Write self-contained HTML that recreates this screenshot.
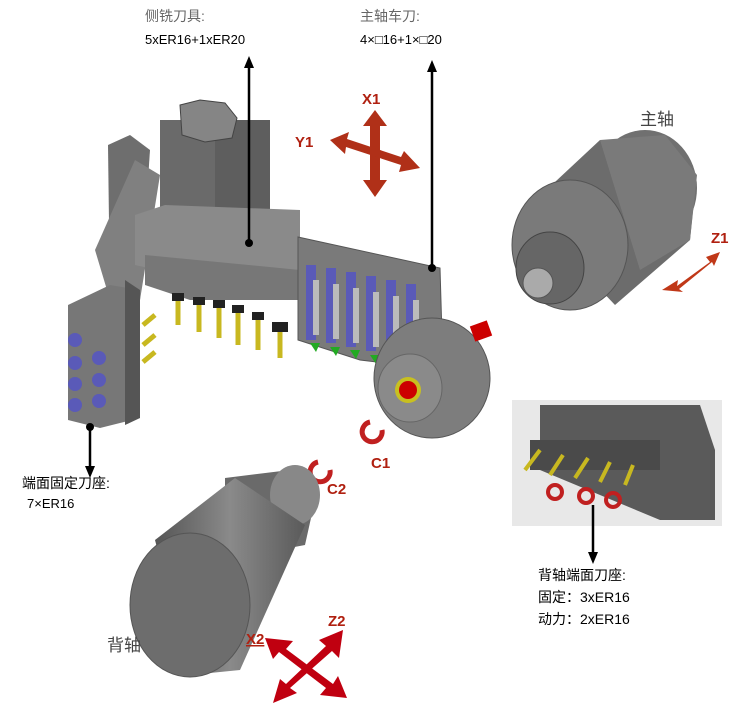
<!DOCTYPE html>
<html><head><meta charset="utf-8"><style>
body{margin:0;background:#fff;width:754px;height:716px;overflow:hidden}
svg{display:block}
text{font-family:"Liberation Sans","Noto Sans CJK SC",sans-serif}
</style></head><body>
<svg width="754" height="716" viewBox="0 0 754 716">
<defs>
<linearGradient id="cyl" x1="0" y1="0" x2="1" y2="0"><stop offset="0" stop-color="#555"/><stop offset=".5" stop-color="#8a8a8a"/><stop offset="1" stop-color="#5a5a5a"/></linearGradient>
<marker id="ah" markerUnits="userSpaceOnUse" markerWidth="12" markerHeight="12" refX="6" refY="6" orient="auto"><path d="M0,1 L12,6 L0,11z" fill="#000"/></marker>
</defs>
<text x="145" y="21" font-size="14" fill="#666">侧铣刀具:</text>
<text x="145" y="44" font-size="13" fill="#000">5xER16+1xER20</text>
<text x="360" y="21" font-size="14" fill="#666">主轴车刀:</text>
<text x="360" y="44" font-size="13" fill="#000">4×□16+1×□20</text>
<!-- turret -->
<polygon points="108,145 130,135 150,150 140,300 110,300" fill="#6e6e6e"/>
<polygon points="95,250 135,160 160,175 140,300 110,300" fill="#808080"/>
<polygon points="68,305 110,285 140,290 140,418 100,428 68,420" fill="#777"/>
<polygon points="125,280 140,290 140,418 125,425" fill="#555"/>
<rect x="160" y="120" width="110" height="110" fill="#6a6a6a"/>
<rect x="215" y="120" width="55" height="110" fill="#5e5e5e"/>
<polygon points="180,105 200,100 225,103 237,118 232,138 205,142 182,135" fill="#858585" stroke="#444"/>
<polygon points="135,215 165,205 300,210 300,295 270,295 135,265" fill="#8a8a8a"/>
<polygon points="145,255 300,270 300,300 190,300 145,285" fill="#777"/>
<polygon points="298,237 440,268 443,370 360,360 298,340" fill="#7a7a7a" stroke="#555"/>
<g fill="#5a5ab8">
<rect x="306" y="265" width="10" height="75"/><rect x="326" y="268" width="10" height="75"/><rect x="346" y="272" width="10" height="75"/><rect x="366" y="276" width="10" height="75"/><rect x="386" y="280" width="10" height="75"/><rect x="406" y="284" width="10" height="75"/></g>
<g fill="#bbb"><rect x="313" y="280" width="6" height="55"/><rect x="333" y="284" width="6" height="55"/><rect x="353" y="288" width="6" height="55"/><rect x="373" y="292" width="6" height="55"/><rect x="393" y="296" width="6" height="55"/><rect x="413" y="300" width="6" height="55"/></g>
<g fill="#2a2"><polygon points="310,343 320,343 316,352"/><polygon points="330,347 340,347 336,356"/><polygon points="350,350 360,350 356,359"/><polygon points="370,355 380,355 376,364"/><polygon points="390,358 400,358 396,367"/><polygon points="410,362 420,362 416,371"/></g>
<g stroke="#c8b820" stroke-width="5"><line x1="178" y1="300" x2="178" y2="325"/><line x1="199" y1="302" x2="199" y2="332"/><line x1="219" y1="305" x2="219" y2="338"/><line x1="238" y1="310" x2="238" y2="345"/><line x1="258" y1="320" x2="258" y2="350"/><line x1="280" y1="330" x2="280" y2="358"/><line x1="143" y1="325" x2="155" y2="315"/><line x1="143" y1="345" x2="155" y2="335"/><line x1="143" y1="362" x2="155" y2="352"/></g>
<g fill="#222"><rect x="172" y="293" width="12" height="8"/><rect x="193" y="297" width="12" height="8"/><rect x="213" y="300" width="12" height="8"/><rect x="232" y="305" width="12" height="8"/><rect x="252" y="312" width="12" height="8"/><rect x="272" y="322" width="16" height="10"/></g>
<g fill="#5a5ab8"><ellipse cx="75" cy="340" rx="7" ry="7"/><ellipse cx="75" cy="363" rx="7" ry="7"/><ellipse cx="75" cy="384" rx="7" ry="7"/><ellipse cx="75" cy="405" rx="7" ry="7"/><ellipse cx="99" cy="358" rx="7" ry="7"/><ellipse cx="99" cy="380" rx="7" ry="7"/><ellipse cx="99" cy="401" rx="7" ry="7"/></g>
<ellipse cx="432" cy="378" rx="58" ry="60" fill="#7d7d7d" stroke="#555"/>
<ellipse cx="410" cy="388" rx="32" ry="34" fill="#8a8a8a" stroke="#666"/>
<ellipse cx="408" cy="390" rx="13" ry="13" fill="#c8c020"/>
<ellipse cx="408" cy="390" rx="9" ry="9" fill="#c00"/>
<rect x="472" y="323" width="18" height="16" fill="#c00" transform="rotate(-20 481 331)"/>
<!-- arrow lines -->
<line x1="249" y1="243" x2="249" y2="62" stroke="#000" stroke-width="2.5" marker-end="url(#ah)"/>
<circle cx="249" cy="243" r="4"/>
<line x1="432" y1="268" x2="432" y2="66" stroke="#000" stroke-width="2.5" marker-end="url(#ah)"/>
<circle cx="432" cy="268" r="4"/>
<line x1="90" y1="427" x2="90" y2="472" stroke="#000" stroke-width="2.5" marker-end="url(#ah)"/>
<circle cx="90" cy="427" r="4"/>
<!-- X1 Y1 -->
<text x="362" y="104" font-size="15" font-weight="bold" fill="#b02010">X1</text>
<text x="295" y="147" font-size="15" font-weight="bold" fill="#b02010">Y1</text>
<g fill="#b03018">
<polygon points="375,110 387,126 380,126 380,180 387,180 375,197 363,180 370,180 370,126 363,126"/>
<polygon points="330,140 349,132 347,139 401,157 404,151 420,168 399,172 401,165 346,147 345,154"/></g>
<!-- main spindle -->
<text x="640" y="125" font-size="17" fill="#444">主轴</text>
<ellipse cx="645" cy="188" rx="52" ry="58" fill="#707070"/>
<polygon points="525,210 600,140 695,190 690,240 615,305" fill="#6c6c6c"/>
<polygon points="600,140 665,135 697,175 690,240 640,270" fill="#7a7a7a"/>
<ellipse cx="570" cy="245" rx="58" ry="65" fill="#7a7a7a" stroke="#555"/>
<ellipse cx="550" cy="268" rx="34" ry="36" fill="#666" stroke="#444"/>
<ellipse cx="538" cy="283" rx="15" ry="15" fill="#aaa" stroke="#555"/>
<text x="711" y="243" font-size="15" font-weight="bold" fill="#b02010">Z1</text>
<polygon points="662,290 678,280 677,286 710,262 706,257 720,252 714,266 712,262 679,289 683,292" fill="#c03818"/>
<text x="22" y="488" font-size="14" fill="#000">端面固定刀座:</text>
<text x="27" y="508" font-size="13" fill="#000">7×ER16</text>
<path d="M370,422 a10,10 0 1 0 12,8" stroke="#c02020" stroke-width="5" fill="none"/>
<text x="371" y="468" font-size="15" font-weight="bold" fill="#b02010">C1</text>
<path d="M318,462 a10,10 0 1 0 12,8" stroke="#c02020" stroke-width="5" fill="none"/>
<text x="327" y="494" font-size="15" font-weight="bold" fill="#b02010">C2</text>
<!-- back spindle -->
<polygon points="225,478 290,470 315,500 305,545 225,560" fill="#6a6a6a"/>
<ellipse cx="295" cy="495" rx="25" ry="30" fill="#888"/>
<polygon points="155,540 235,478 305,525 240,670 190,675" fill="url(#cyl)"/>
<ellipse cx="190" cy="605" rx="60" ry="72" fill="#6d6d6d" stroke="#555"/>
<text x="107" y="651" font-size="17" fill="#444">背轴</text>
<text x="246" y="644" font-size="15" font-weight="bold" fill="#b02010" text-decoration="underline">X2</text>
<text x="328" y="626" font-size="15" font-weight="bold" fill="#b02010">Z2</text>
<g fill="#c00010"><polygon points="265,638 293,641 286,649 333,684 338,676 347,698 320,695 326,688 279,652 273,659"/><polygon points="343,630 339,658 332,651 290,688 297,693 273,703 280,679 286,684 326,646 319,640"/></g>
<!-- inset photo -->
<rect x="512" y="400" width="210" height="126" fill="#e8e8e8"/>
<polygon points="540,405 700,405 715,450 715,520 660,520 540,470" fill="#5a5a5a"/>
<rect x="530" y="440" width="130" height="30" fill="#4a4a4a"/>
<g stroke="#c8b820" stroke-width="4"><line x1="540" y1="450" x2="525" y2="470"/><line x1="563" y1="455" x2="550" y2="475"/><line x1="588" y1="458" x2="575" y2="478"/><line x1="610" y1="462" x2="600" y2="482"/><line x1="633" y1="465" x2="625" y2="485"/></g>
<g stroke="#c02020" stroke-width="4" fill="none"><circle cx="555" cy="492" r="7"/><circle cx="586" cy="496" r="7"/><circle cx="613" cy="500" r="7"/></g>
<line x1="593" y1="505" x2="593" y2="558" stroke="#000" stroke-width="2.5" marker-end="url(#ah)"/>
<text x="538" y="580" font-size="14" fill="#000">背轴端面刀座:</text>
<text x="538" y="602" font-size="14" fill="#000">固定：3xER16</text>
<text x="538" y="624" font-size="14" fill="#000">动力：2xER16</text>
</svg>
</body></html>
